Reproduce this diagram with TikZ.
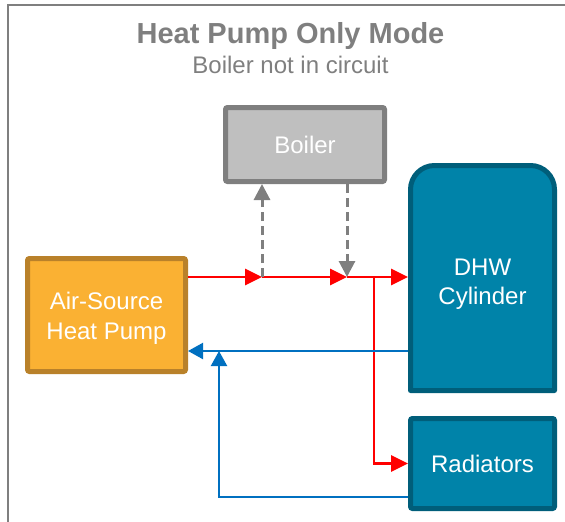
\documentclass[tikz,border=0pt]{standalone}
\usepackage{fontspec}
\setmainfont{Liberation Sans}
\usetikzlibrary{arrows.meta}
\definecolor{framegray}{HTML}{7F7F7F}
\definecolor{titlegray}{HTML}{7F7F7F}
\definecolor{boilerfill}{HTML}{BFBFBF}
\definecolor{boilerline}{HTML}{7F7F7F}
\definecolor{ashpfill}{HTML}{FAB133}
\definecolor{ashpline}{HTML}{B9812A}
\definecolor{tealfill}{HTML}{0083A9}
\definecolor{tealline}{HTML}{005E7A}
\definecolor{hotred}{HTML}{FF0000}
\definecolor{coldblue}{HTML}{0070C0}
\begin{document}
\begin{tikzpicture}[x=1pt,y=-1pt,
  boxfont/.style={font=\fontsize{24pt}{29pt}\selectfont},
  unit/.style={rectangle, line width=5pt, inner sep=0pt, rounded corners=2pt, text=white, boxfont, align=center},
  boilerbox/.style={unit, draw=boilerline, fill=boilerfill},
  ashpbox/.style={unit, draw=ashpline, fill=ashpfill},
  tealbox/.style={unit, draw=tealline, fill=tealfill},
  boxtext/.style={text=white, inner sep=0pt, align=center},
  hot/.style={draw=hotred, line width=2.75pt, -{Triangle[length=17pt,width=16pt]}},
  cold/.style={draw=coldblue, line width=2.25pt, -{Triangle[length=15pt,width=16pt]}},
  bypass/.style={draw=framegray, line width=3pt, dash pattern=on 9pt off 5pt, -{Triangle[length=16pt,width=16pt]}},
  frameline/.style={draw=framegray, line width=2.5pt}
]
\useasboundingbox (0,0) rectangle (565,522);
\draw[frameline] (8,540) -- (8,5) -- (580,5);

\node[anchor=base, font=\bfseries\fontsize{29pt}{35pt}\selectfont, text=titlegray, inner sep=0pt] (title) at (290.5,43) {Heat Pump Only Mode};
\node[anchor=base, boxfont, text=titlegray, inner sep=0pt] (subtitle) at (290.5,73) {Boiler not in circuit};

\node[boilerbox, minimum width=159pt, minimum height=74pt] (boiler) at (305,144.5) {Boiler};
\node[ashpbox, minimum width=158pt, minimum height=113pt] (ashp) at (106.5,315) {};
\node[boxtext, font=\fontsize{24pt}{30pt}\selectfont] (ashplabel) at (106.5,318) {Air-Source\\Heat Pump};

% DHW cylinder: rounded top
\draw[line width=5pt, draw=tealline, fill=tealfill, line join=round]
  (410.5,390.5) -- (410.5,189.5) arc[start angle=180, end angle=270, radius=24]
  -- (530.5,165.5) arc[start angle=270, end angle=360, radius=24]
  -- (554.5,390.5) -- cycle;
\node[rectangle, inner sep=0pt, outer sep=2.5pt, minimum width=144pt, minimum height=225pt] (dhw) at (482.5,278) {};
\node[boxtext, boxfont] (dhwlabel) at (482.5,284.4) {DHW\\Cylinder};

\node[tealbox, minimum width=144pt, minimum height=90pt] (rad) at (482.5,463.5) {Radiators};

% junction coordinates
\coordinate (hotA) at (262,277);
\coordinate (hotB) at (347,277);
\coordinate (hotT) at (374,277);
\coordinate (coldY) at (219,351);
\coordinate (retY) at (219,497);

% flow (red)
\draw[hot] (ashp.east |- hotA) -- (hotA);
\draw[hot] (hotA) -- (hotB);
\draw[hot] (hotB) -- (dhw.west |- hotB);
\draw[hot] (hotT) |- (rad.west);

% bypass to boiler (grey dashed)
\draw[bypass] (hotA) -- (boiler.south -| hotA);
\draw[bypass] (boiler.south -| hotB) -- (hotB);

% return (blue)
\draw[cold] (dhw.west |- coldY) -- (ashp.east |- coldY);
\draw[cold] (rad.west |- retY) -| (coldY);
\end{tikzpicture}
\end{document}
